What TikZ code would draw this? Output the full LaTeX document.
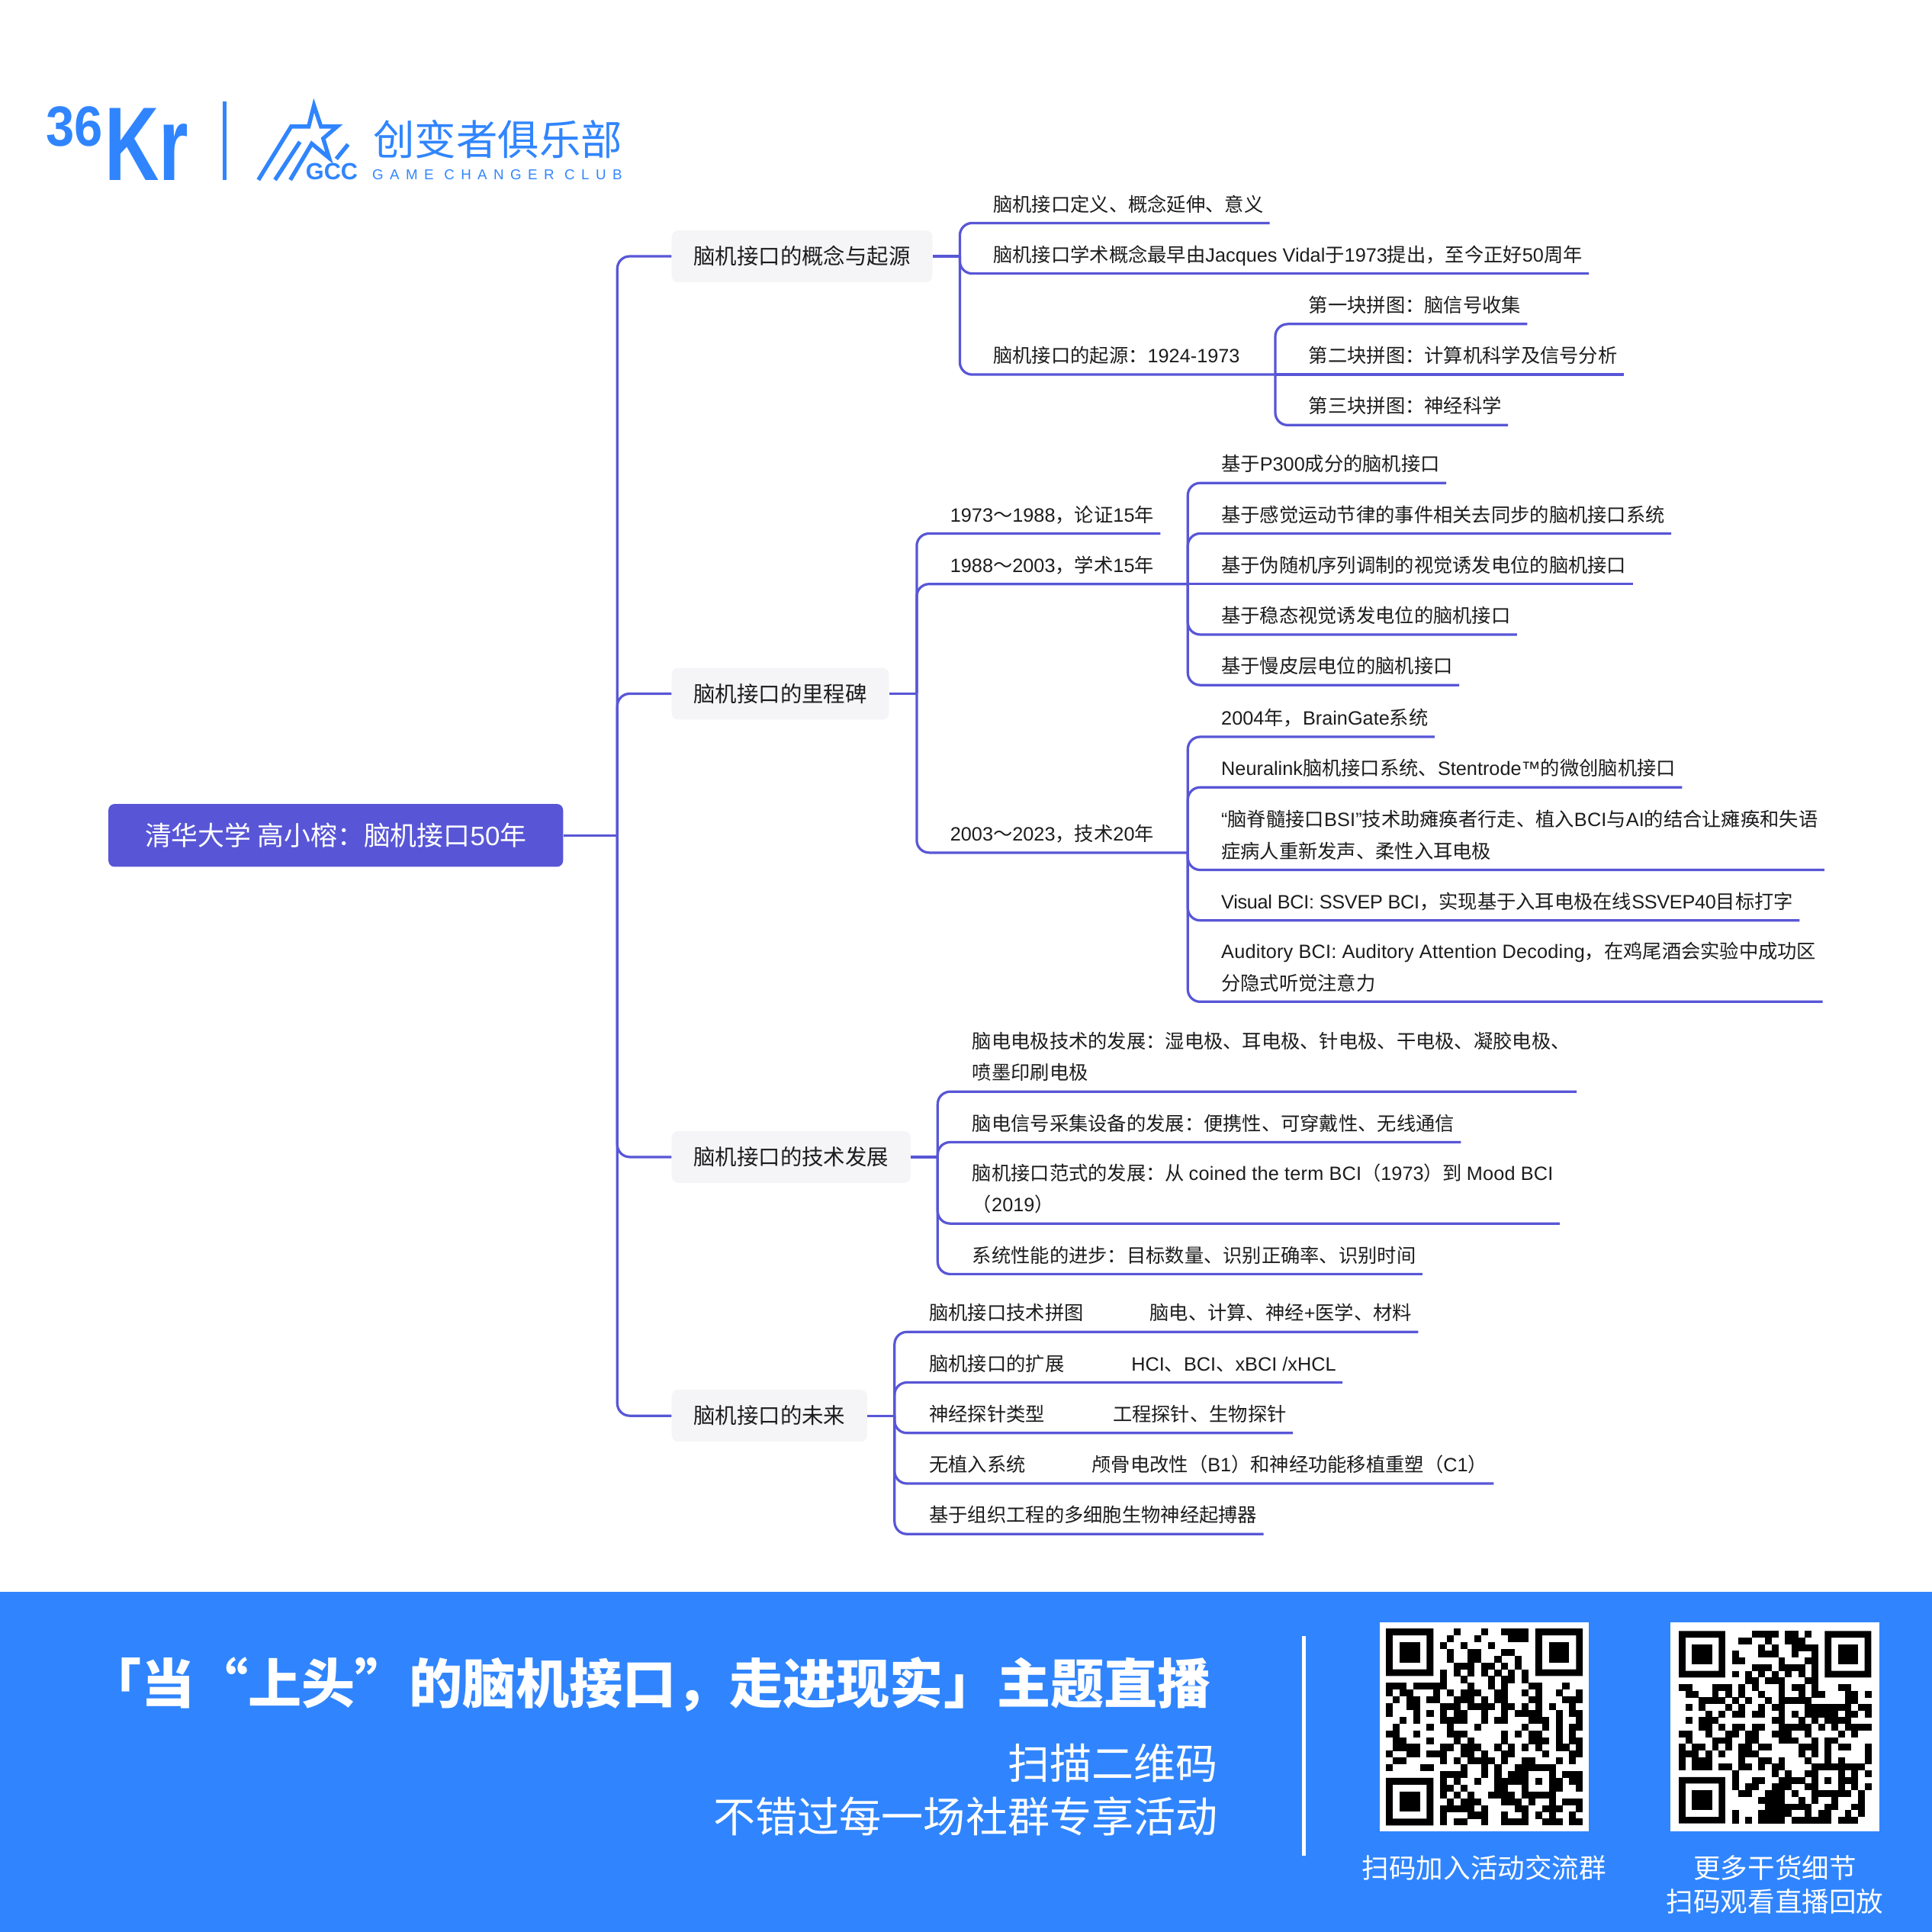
\documentclass[tikz,border=0pt]{standalone}
\usepackage{fontspec}
\setmainfont{Noto Sans CJK SC}
\newfontfamily\latinfont{Liberation Sans}
\newfontfamily\latinbold{Liberation Sans Bold}
\newfontfamily\latinnarrow[LetterSpace=-1.2]{Liberation Sans}
\newfontfamily\latinwide[LetterSpace=0.8]{Liberation Sans}
\newcommand{\la}[1]{{\latinfont #1}}
\newcommand{\lan}[1]{{\latinnarrow #1}}
\newcommand{\law}[1]{{\latinwide #1}}
\newcommand{\qrfinder}[2]{%
  \fill[even odd rule] (#1,#2) rectangle ++(7,7) (#1+1,#2+1) rectangle ++(5,5);
  \fill (#1+2,#2+2) rectangle ++(3,3);}
\definecolor{mapblue}{HTML}{5856D6}
\definecolor{lightbox}{HTML}{F5F5F7}
\definecolor{brandblue}{HTML}{3085FE}
\definecolor{inkgrey}{HTML}{1C1C1E}
\tikzset{
  branch/.style={draw=mapblue,line width=2pt,rounded corners=10pt},
  rootbox/.style={fill=mapblue,rounded corners=5pt,minimum width=369pt,minimum height=51pt,inner sep=0pt,text=white,
    font=\fontsize{21.6pt}{26pt}\selectfont},
  levelbox/.style={fill=lightbox,rounded corners=5pt,minimum height=42pt,inner xsep=17.7pt,inner ysep=0pt,anchor=west,text=inkgrey,
    font=\fontsize{17.6pt}{22pt}\selectfont},
  leaf/.style={anchor=south west,align=left,inner xsep=5pt,inner ysep=5.8pt,text depth=3.5pt,text=inkgrey,
    font=\fontsize{15.65pt}{25.5pt}\selectfont},
  bannertext/.style={text=white,inner sep=0pt,font=\fontsize{34.1pt}{40pt}\selectfont},
  qrcaption/.style={text=white,inner sep=0pt,font=\fontsize{22pt}{27pt}\selectfont},
  logoline/.style={draw=brandblue,line width=3.3pt,line join=miter},
}
\begin{document}
\begin{tikzpicture}[x=1pt,y=-1pt]
  \useasboundingbox (0,0) rectangle (1568,1568);
  \fill[brandblue] (0,1292) rectangle (1568,1568);

  \node[inner sep=0pt,anchor=center,text=brandblue,xscale=.9,transform shape,font=\fontsize{46pt}{46pt}\latinbold] (logo36) at (60.5,103) {36};
  \node[inner sep=0pt,anchor=base west,text=brandblue,xscale=.72,transform shape,font=\fontsize{85pt}{85pt}\latinbold] (logokr) at (85,146.6) {Kr};
  \fill[brandblue] (180.5,82.5) rectangle (184,146);
  \draw[logoline] (209.7,146) -- (236.3,102.7) -- (250.5,102.7) -- (254.8,85.6) -- (260.5,102.7) -- (273.6,102.7) -- (262.3,112.4) -- (267.2,128.3) -- (253,116.6) -- (235.6,146);
  \draw[logoline] (223.2,146) -- (243.4,115.1);
  \draw[logoline] (272.9,129) -- (282.5,117.2);
  \node[inner sep=0pt,anchor=base west,text=brandblue,font=\fontsize{19pt}{19pt}\latinbold] (logogcc) at (248,146) {GCC};
  \node[inner sep=0pt,anchor=center,text=brandblue,font=\fontsize{33.7pt}{34pt}\selectfont] (logoclub) at (404,113) {创变者俱乐部};
  \node[inner sep=0pt,anchor=base west,text=brandblue,font=\fontsize{11.6pt}{12pt}\latinfont\addfontfeatures{LetterSpace=45}] (logoen) at (302,145.5) {GAME CHANGER CLUB};

  \node[rootbox] (root) at (272.5,678) {清华大学 高小榕：脑机接口\la{50}年};
  \coordinate (trunk) at (501,678);
  \node[levelbox] (origin) at (545,208) {脑机接口的概念与起源};
  \node[levelbox] (milestone) at (545,563) {脑机接口的里程碑};
  \node[levelbox] (tech) at (545,939) {脑机接口的技术发展};
  \node[levelbox] (future) at (545,1149) {脑机接口的未来};
  \draw[branch] (root.east) -- (trunk);
  \draw[branch] (trunk) |- (origin.west);
  \draw[branch] (trunk) |- (milestone.west);
  \draw[branch] (trunk) |- (tech.west);
  \draw[branch] (trunk) |- (future.west);

  \coordinate (originhub) at (779,208);
  \node[leaf] (define) at (801,181) {脑机接口定义、概念延伸、意义};
  \node[leaf] (vidal) at (801,222) {脑机接口学术概念最早由\la{Jacques Vidal}于\la{1973}提出，至今正好\la{50}周年};
  \node[leaf] (start) at (801,304) {脑机接口的起源：\la{1924-1973}};
  \coordinate (starthub) at (1035,304);
  \node[leaf] (puzzlea) at (1057,263) {第一块拼图：脑信号收集};
  \node[leaf] (puzzleb) at (1057,304) {第二块拼图：计算机科学及信号分析};
  \node[leaf] (puzzlec) at (1057,345) {第三块拼图：神经科学};
  \draw[branch] (origin.east) -- (originhub);
  \draw[branch] (originhub) |- (define.south east);
  \draw[branch] (originhub) |- (vidal.south east);
  \draw[branch] (originhub) |- (start.south) -- (starthub);
  \draw[branch] (starthub) |- (puzzlea.south east);
  \draw[branch] (starthub) -- (puzzleb.south east);
  \draw[branch] (starthub) |- (puzzlec.south east);

  \coordinate (milehub) at (744,563);
  \node[leaf] (proof) at (766,433) {\la{1973}～\la{1988}，论证\la{15}年};
  \node[leaf] (study) at (766,474) {\la{1988}～\la{2003}，学术\la{15}年};
  \node[leaf] (skill) at (766,692) {\la{2003}～\la{2023}，技术\la{20}年};
  \coordinate (studyhub) at (964,474);
  \coordinate (skillhub) at (964,692);
  \node[leaf] (ptype) at (986,392) {基于\la{P300}成分的脑机接口};
  \node[leaf] (erd) at (986,433) {基于感觉运动节律的事件相关去同步的脑机接口系统};
  \node[leaf] (cvep) at (986,474) {基于伪随机序列调制的视觉诱发电位的脑机接口};
  \node[leaf] (ssvep) at (986,515) {基于稳态视觉诱发电位的脑机接口};
  \node[leaf] (scp) at (986,556) {基于慢皮层电位的脑机接口};
  \node[leaf] (braingate) at (986,598) {\la{2004}年，\la{BrainGate}系统};
  \node[leaf] (neuralink) at (986,639) {\la{Neuralink}脑机接口系统、\la{Stentrode™}的微创脑机接口};
  \node[leaf] (spine) at (986,706) {\la{“}脑脊髓接口\law{BSI”}技术助瘫痪者行走、植入\law{BCI}与\law{AI}的结合让瘫痪和失语\\症病人重新发声、柔性入耳电极};
  \node[leaf] (visual) at (986,747) {\lan{Visual BCI: SSVEP BCI}，实现基于入耳电极在线\lan{SSVEP40}目标打字};
  \node[leaf] (auditory) at (986,813) {\law{Auditory BCI: Auditory Attention Decoding}，在鸡尾酒会实验中成功区\\分隐式听觉注意力};
  \draw[branch] (milestone.east) -- (milehub);
  \draw[branch] (milehub) |- (proof.south east);
  \draw[branch] (milehub) |- (study.south) -- (studyhub);
  \draw[branch] (milehub) |- (skill.south) -- (skillhub);
  \draw[branch] (studyhub) |- (ptype.south east);
  \draw[branch] (studyhub) |- (erd.south east);
  \draw[branch] (studyhub) -- (cvep.south east);
  \draw[branch] (studyhub) |- (ssvep.south east);
  \draw[branch] (studyhub) |- (scp.south east);
  \draw[branch] (skillhub) |- (braingate.south east);
  \draw[branch] (skillhub) |- (neuralink.south east);
  \draw[branch] (skillhub) |- (spine.south east);
  \draw[branch] (skillhub) |- (visual.south east);
  \draw[branch] (skillhub) |- (auditory.south east);

  \coordinate (techhub) at (761,939);
  \node[leaf] (electrode) at (784,886) {脑电电极技术的发展：湿电极、耳电极、针电极、干电极、凝胶电极、\\喷墨印刷电极};
  \node[leaf] (device) at (784,927) {脑电信号采集设备的发展：便携性、可穿戴性、无线通信};
  \node[leaf] (paradigm) at (784,993) {脑机接口范式的发展：从 \law{coined the term BCI}（\la{1973}）到 \law{Mood BCI}\hspace{1pt}\\（\la{2019}）};
  \node[leaf] (system) at (784,1034) {系统性能的进步：目标数量、识别正确率、识别时间};
  \draw[branch] (tech.east) -- (techhub);
  \draw[branch] (techhub) |- (electrode.south east);
  \draw[branch] (techhub) |- (device.south east);
  \draw[branch] (techhub) |- (paradigm.south east);
  \draw[branch] (techhub) |- (system.south east);

  \coordinate (futurehub) at (726,1149);
  \node[leaf] (puzzle) at (749,1081) {脑机接口技术拼图};
  \node[leaf] (puzzlenote) at (928,1081) {脑电、计算、神经\la{+}医学、材料};
  \node[leaf] (extend) at (749,1122) {脑机接口的扩展};
  \node[leaf] (extendnote) at (913,1122) {\la{HCI}、\la{BCI}、\la{xBCI /xHCL}};
  \node[leaf] (probe) at (749,1163) {神经探针类型};
  \node[leaf] (probenote) at (898,1163) {工程探针、生物探针};
  \node[leaf] (noimplant) at (749,1204) {无植入系统};
  \node[leaf] (noimplantnote) at (881,1204) {颅骨电改性（\la{B1}）和神经功能移植重塑（\la{C1}）};
  \node[leaf] (pacemaker) at (749,1245) {基于组织工程的多细胞生物神经起搏器};
  \draw[branch] (future.east) -- (futurehub);
  \draw[branch] (futurehub) |- (puzzle.south) -- (puzzlenote.south east);
  \draw[branch] (futurehub) |- (extend.south) -- (extendnote.south east);
  \draw[branch] (futurehub) |- (probe.south) -- (probenote.south east);
  \draw[branch] (futurehub) |- (noimplant.south) -- (noimplantnote.south east);
  \draw[branch] (futurehub) |- (pacemaker.south east);

  \node[inner sep=0pt,anchor=east,text=white,font=\fontsize{43.4pt}{48pt}\bfseries] (title) at (983,1367) {「当“上头”的脑机接口，走进现实」主题直播};
  \node[bannertext,anchor=east] (scan) at (988.5,1431) {扫描二维码};
  \node[bannertext,anchor=east] (slogan) at (988.5,1474) {不错过每一场社群专享活动};
  \fill[white] (1056.5,1328) rectangle (1060,1506);

  \fill[white] (1120,1316.7) rectangle (1289.5,1486.4);
  \fill[white] (1355.7,1316.7) rectangle (1525.3,1486.4);
  \begin{scope}[shift={(1124.8,1321.7)},x=5.51pt,y=5.51pt,yscale=-1,black]
    \qrfinder{0}{0}
    \qrfinder{22}{0}
    \qrfinder{0}{22}
    \foreach \r/\cols in {0/{10,14,17,18,19,20},1/{9,13,18,19,20},2/{8,11,15},3/{9,12,13,17,18},4/{9,12,13,16,19},
      5/{10,11,12,14,15,17,19},6/{8,10,12,14,16,18,20},7/{8,11,15,17,18,20},
      8/{0,1,2,4,5,6,7,8,12,15,17,21,22,26},9/{0,2,3,7,9,11,12,13,16,17,20,22,25,28},
      10/{1,3,4,6,7,10,11,12,14,16,17,21,22,26,27,28},11/{0,3,4,8,9,10,12,13,14,15,17,18,20,22,24,27},
      12/{0,4,6,8,10,11,14,17,19,20,21,22,25,27,28},13/{2,4,8,9,10,11,14,16,17,21,22,23,25,28},
      14/{1,6,9,13,20,23,25,27,28},15/{0,1,4,9,10,11,17,19,21,22,25,27},
      16/{1,2,6,10,12,17,21,22,23,25,27,28},17/{1,2,3,4,8,9,11,12,13,16,18,20,22,25,26,28},
      18/{0,3,4,6,7,8,11,12,14,17,18,23,27,28},19/{1,2,8,10,12,13,14,15,17,20,21,25,27},
      20/{0,5,6,11,14,16,19,20,21,22,23,24},21/{8,9,10,11,14,16,18,19,20,24,26,27,28},
      22/{8,10,13,16,17,18,19,20,22,24,25,27,28},23/{8,9,11,16,17,20,24,25,28},
      24/{8,10,12,15,16,17,18,20,21,22,23,24},25/{9,11,12,13,17,18,19,21,24,26,27,28},
      26/{8,9,10,11,12,14,19,20,23,24,25,28},27/{8,12,13,14,17,20,22,24,27},
      28/{8,10,11,14,17,18,19,20,23,24,25,27,28}}
      \foreach \c in \cols \fill (\c,\r) rectangle ++(1.02,1.02);
  \end{scope}
  \begin{scope}[shift={(1362.5,1323.7)},x=5.386pt,y=5.386pt,yscale=-1,black]
    \qrfinder{0}{0}
    \qrfinder{22}{0}
    \qrfinder{0}{22}
    \foreach \r/\cols in {0/{11,12,13,14,16,17,19},1/{9,10,13,16,17,18},2/{12,14,17,18,19,20},3/{8,12,13,14,17,20},
      4/{8,9,15,19,20},5/{11,12,13,15,16,17,18,20},6/{8,10,12,14,16,18,20},7/{10,11,13,14,15,19,20},
      8/{0,1,5,6,7,9,11,15,17,18,20,24,25},9/{1,2,5,7,9,12,15,18,20,21,25,26,28},
      10/{3,4,5,6,8,10,13,15,16,17,18,19,25,26},11/{1,3,7,9,12,14,15,19,20,21,22,23,24,25,27,28},
      12/{4,6,8,9,11,12,15,17,19,20,21,22,23,25,26,28},13/{1,3,4,5,14,15,18,20,22,23,24,25},
      14/{3,4,6,8,9,11,12,15,16,17,18,19,21,23,25,26,27,28},15/{0,1,4,7,8,10,11,14,15,16,19,24,26},
      16/{1,5,6,7,10,11,15,16,17,20,22,23},17/{0,2,3,5,7,9,10,12,13,18,19,20,22,24,25,28},
      18/{0,1,2,4,6,9,10,11,18,20,22,28},19/{0,2,3,4,9,12,13,15,19,22,24,28},
      20/{0,2,3,4,6,7,9,10,12,14,15,20,21,22,23,24,25,26,27},21/{8,14,16,19,20,24,26,28},
      22/{8,11,12,15,16,17,18,20,22,24,25,26},23/{8,10,11,14,15,16,19,20,24,26,28},
      24/{9,10,13,14,15,17,20,21,22,23,24,25,27},25/{12,13,14,15,18,20,23,27},
      26/{13,14,15,16,17,18,19,22,23,26,27},27/{8,12,13,14,15,16,19,21,22,25,27},
      28/{8,10,12,13,14,15,17,18,19,20,21,22,24,25,26}}
      \foreach \c in \cols \fill (\c,\r) rectangle ++(1.02,1.02);
  \end{scope}
  \node[qrcaption] (groupcap) at (1204.5,1516) {扫码加入活动交流群};
  \node[qrcaption] (morecap) at (1440.5,1516) {更多干货细节};
  \node[qrcaption] (replaycap) at (1440.5,1543) {扫码观看直播回放};
\end{tikzpicture}
\end{document}
